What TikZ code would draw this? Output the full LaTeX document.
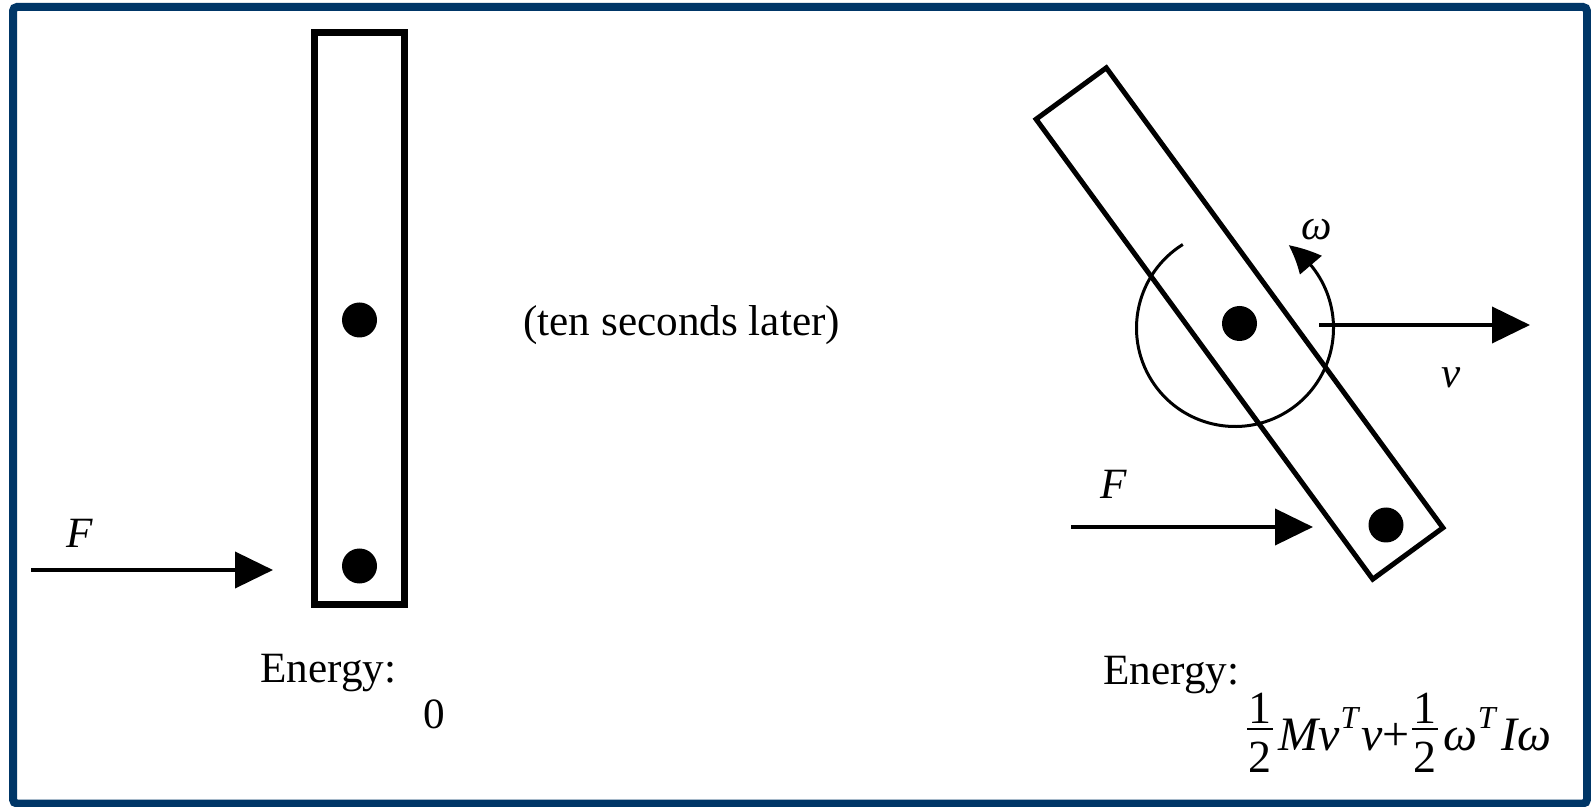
\documentclass[tikz,border=0pt]{standalone}
\usepackage{fontspec}
\setmainfont{Liberation Serif}
\usetikzlibrary{arrows.meta,bending}
\definecolor{navyframe}{RGB}{0,54,103}
\newcommand{\myhalf}{{\fontsize{23}{27}\selectfont\upshape\makebox[13pt]{\makebox[0pt]{\raisebox{13.5pt}{1}}\makebox[0pt]{\raisebox{-11pt}{2}}}\llap{\rule[10pt]{13pt}{0.9pt}}}}
\newcommand{\mysupT}{\raisebox{11pt}{\fontsize{16}{16}\selectfont\itshape T}}
\begin{document}
\begin{tikzpicture}[x=0.5pt,y=0.5pt,
  txt/.style={inner sep=0pt, anchor=base west, font=\fontsize{21.6}{25}\selectfont},
  itxt/.style={txt, font=\fontsize{21.6}{25}\selectfont\itshape},
  ftxt/.style={txt, font=\fontsize{24}{28}\selectfont\itshape},
  bar/.style={draw, inner sep=0pt, rectangle},
  dot/.style={circle, fill=black, inner sep=0pt, minimum size=17.5pt},
  arr/.style={line width=2pt, -{Triangle[length=19pt,width=18pt]}},
  rotarr/.style={line width=1.5pt, -{Triangle[length=15pt,width=14pt,bend]}},
  frame/.style={draw=navyframe, line width=4pt, rounded corners=2pt}
]
\useasboundingbox (0,0) rectangle (1591,-807);
\fill[white] (0,0) rectangle (1591,-807);
\draw[frame] (13,-7) rectangle (1587,-803.5);

% left bar
\node[bar, line width=3.5pt, minimum width=45pt, minimum height=286pt] (bar1) at (359.5,-318.5) {};
\node[dot] (d1top) at (359.5,-320) {};
\node[dot] (d1bot) at (359.5,-566) {};
\coordinate (F1s) at (31,-570);
\coordinate (F1e) at (273,-570);
\draw[arr] (F1s) -- (F1e);
\node[itxt] (F1) at (66,-547) {F};
\node[txt] (en1) at (260,-682) {Energy:};
\node[txt] (en1v) at (423,-728) {0};

\node[txt] (later) at (523,-336) {(ten seconds later)};

% right bar
\node[bar, line width=2.5pt, minimum width=43.5pt, minimum height=285pt, rotate=36.2] (bar2) at (1239.5,-323.5) {};
\node[dot] (d2top) at (1239.5,-323.5) {};
\node[dot] (d2bot) at (1386,-525) {};
\draw[rotarr] (1235,-328) ++(122:98.5) arc[start angle=122, end angle=417, radius=98.5];
\node[itxt] (om) at (1301,-240) {ω};
\coordinate (vs) at (1319,-325);
\coordinate (ve) at (1530,-325);
\draw[arr] (vs) -- (ve);
\node[itxt] (v) at (1441,-388) {v};
\coordinate (F2s) at (1071,-527);
\coordinate (F2e) at (1313,-527);
\draw[arr] (F2s) -- (F2e);
\node[itxt] (F2) at (1100,-499) {F};
\node[txt] (en2) at (1103,-684) {Energy:};
\node[ftxt] (en2v) at (1247,-750) {\myhalf\hspace{2.5pt}Mv\hspace{0.5pt}\mysupT\hspace{1.5pt}v{\upshape +}\hspace{1pt}\myhalf\hspace{3pt}ω\mysupT\hspace{3pt}Iω};
\end{tikzpicture}
\end{document}
